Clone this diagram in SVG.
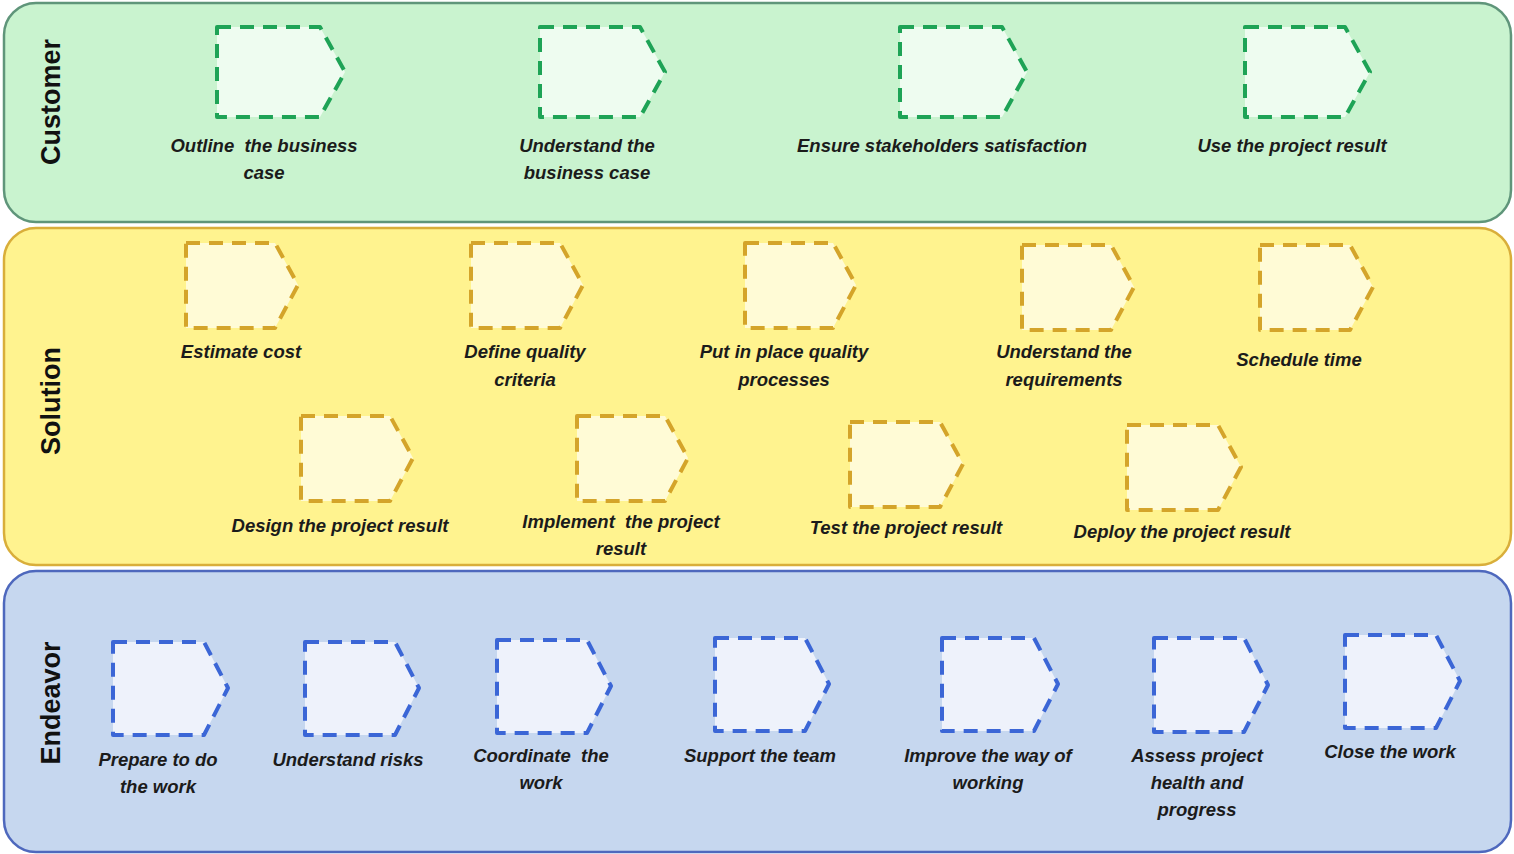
<svg xmlns="http://www.w3.org/2000/svg" width="1514" height="854" viewBox="0 0 1514 854">
<style>
.lane-c{fill:#c9f3cf;stroke:#5f957a;stroke-width:2.5}
.lane-s{fill:#fff38f;stroke:#d9ae3a;stroke-width:2.5}
.lane-e{fill:#c6d7ef;stroke:#4e68bd;stroke-width:2.5}
.lt{font-family:"Liberation Sans",Arial,sans-serif;font-weight:bold;font-size:27px;fill:#111;text-anchor:middle}
.sh{stroke-width:4;stroke-dasharray:14 9;stroke-linejoin:round}
.g{fill:#eefcf0;stroke:#1ea356}
.y{fill:#fffbd6;stroke:#d4a42a}
.b{fill:#eef2fb;stroke:#3b66d6}
.t{font-family:"Liberation Sans",Arial,sans-serif;font-weight:bold;font-style:italic;font-size:18.5px;fill:#1b1b1b;text-anchor:middle}
</style>
<rect width="1514" height="854" fill="#ffffff"/>
<g id="lane-customer">
<rect class="lane-c" x="4" y="3" width="1507" height="219" rx="32"/>
<text class="lt" transform="translate(60,102) rotate(-90)">Customer</text>
</g>
<g id="lane-solution">
<rect class="lane-s" x="4" y="228" width="1507" height="337" rx="32"/>
<text class="lt" transform="translate(60,401) rotate(-90)">Solution</text>
</g>
<g id="lane-endeavor">
<rect class="lane-e" x="4" y="571" width="1507" height="281" rx="32"/>
<text class="lt" transform="translate(60,703) rotate(-90)">Endeavor</text>
</g>
<g id="connectors"></g>

<g id="n-outline"><path class="sh g" d="M217,27 H320 L345,72 L320,117 H217 Z"/><text class="t" x="264" y="152" xml:space="preserve">Outline  the business</text><text class="t" x="264" y="179">case</text></g>
<g id="n-understand-bc"><path class="sh g" d="M540,27 H640 L665,72 L640,117 H540 Z"/><text class="t" x="587" y="152">Understand the</text><text class="t" x="587" y="179">business case</text></g>
<g id="n-ensure"><path class="sh g" d="M900,27 H1002 L1027,72 L1002,117 H900 Z"/><text class="t" x="942" y="152">Ensure stakeholders satisfaction</text></g>
<g id="n-use"><path class="sh g" d="M1245,27 H1345 L1370,72 L1345,117 H1245 Z"/><text class="t" x="1292" y="152">Use the project result</text></g>

<g id="n-estimate"><path class="sh y" d="M186,243 H275 L298,285 L275,328 H186 Z"/><text class="t" x="241" y="358">Estimate cost</text></g>
<g id="n-define"><path class="sh y" d="M471,243 H560 L583,285 L560,328 H471 Z"/><text class="t" x="525" y="358">Define quality</text><text class="t" x="525" y="386">criteria</text></g>
<g id="n-putinplace"><path class="sh y" d="M745,243 H833 L856,285 L833,328 H745 Z"/><text class="t" x="784" y="358">Put in place quality</text><text class="t" x="784" y="386">processes</text></g>
<g id="n-understand-req"><path class="sh y" d="M1022,245 H1111 L1134,287 L1111,330 H1022 Z"/><text class="t" x="1064" y="358">Understand the</text><text class="t" x="1064" y="386">requirements</text></g>
<g id="n-schedule"><path class="sh y" d="M1260,245 H1350 L1373,287 L1350,330 H1260 Z"/><text class="t" x="1299" y="366">Schedule time</text></g>

<g id="n-design"><path class="sh y" d="M301,416 H390 L413,458 L390,501 H301 Z"/><text class="t" x="340" y="532">Design the project result</text></g>
<g id="n-implement"><path class="sh y" d="M577,416 H665 L688,458 L665,501 H577 Z"/><text class="t" x="621" y="528" xml:space="preserve">Implement  the project</text><text class="t" x="621" y="555">result</text></g>
<g id="n-test"><path class="sh y" d="M850,422 H940 L963,464 L940,507 H850 Z"/><text class="t" x="906" y="534">Test the project result</text></g>
<g id="n-deploy"><path class="sh y" d="M1127,425 H1218 L1241,467 L1218,510 H1127 Z"/><text class="t" x="1182" y="538">Deploy the project result</text></g>

<g id="n-prepare"><path class="sh b" d="M113,642 H204 L228,688 L204,735 H113 Z"/><text class="t" x="158" y="766">Prepare to do</text><text class="t" x="158" y="793">the work</text></g>
<g id="n-risks"><path class="sh b" d="M305,642 H395 L419,688 L395,735 H305 Z"/><text class="t" x="348" y="766">Understand risks</text></g>
<g id="n-coordinate"><path class="sh b" d="M497,640 H587 L611,686 L587,733 H497 Z"/><text class="t" x="541" y="762" xml:space="preserve">Coordinate  the</text><text class="t" x="541" y="789">work</text></g>
<g id="n-support"><path class="sh b" d="M715,638 H805 L829,684 L805,731 H715 Z"/><text class="t" x="760" y="762">Support the team</text></g>
<g id="n-improve"><path class="sh b" d="M942,638 H1034 L1058,684 L1034,731 H942 Z"/><text class="t" x="988" y="762">Improve the way of</text><text class="t" x="988" y="789">working</text></g>
<g id="n-assess"><path class="sh b" d="M1154,638 H1244 L1268,685 L1244,732 H1154 Z"/><text class="t" x="1197" y="762">Assess project</text><text class="t" x="1197" y="789">health and</text><text class="t" x="1197" y="816">progress</text></g>
<g id="n-close"><path class="sh b" d="M1345,635 H1436 L1460,681 L1436,728 H1345 Z"/><text class="t" x="1390" y="758">Close the work</text></g>
</svg>
